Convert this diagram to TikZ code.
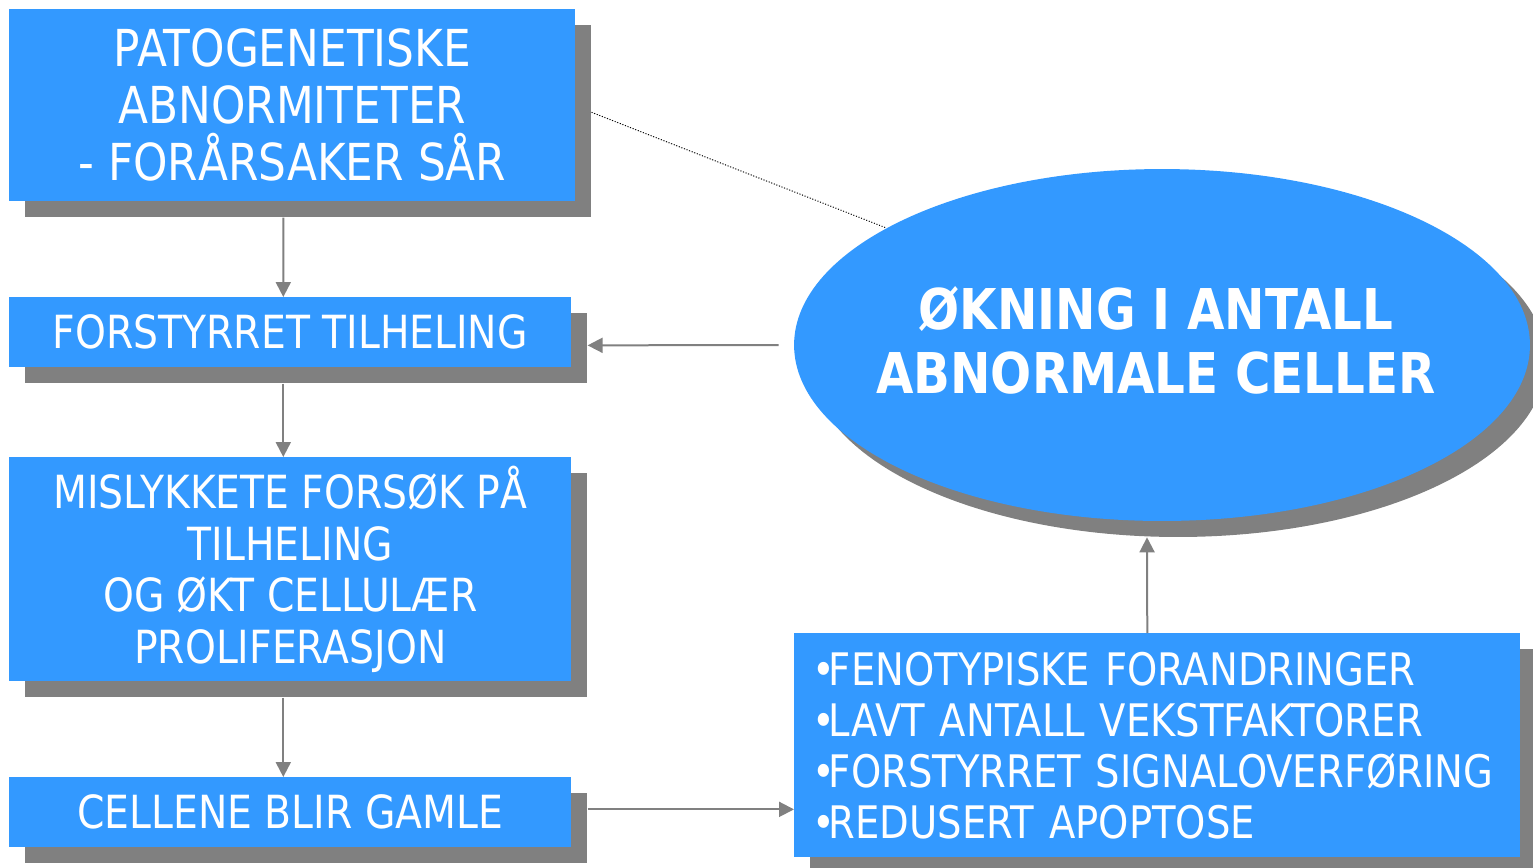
\documentclass[tikz,border=0pt]{standalone}
\usepackage{fontspec}
\setmainfont{DejaVu Sans}[FakeStretch=0.86]
\usetikzlibrary{shapes.geometric,shadows,arrows.meta,calc}
\definecolor{boxblue}{RGB}{51,153,255}
\definecolor{shade}{RGB}{128,128,128}
\newcommand{\bul}{•\kern-0.14em}
\tikzset{
  box/.style={rectangle, fill=boxblue, text=white, inner sep=0pt, anchor=north west, align=center,
    general shadow={fill=shade, shadow xshift=0.32cm, shadow yshift=-0.32cm}},
  arr/.style={-{Triangle[length=0.3cm,width=0.3cm]}, draw=shade, line width=0.04cm},
}
\begin{document}
\begin{tikzpicture}[x=0.02cm,y=-0.02cm]
  \useasboundingbox (0,0) rectangle (1533,867);
  % left column
  \node[box, minimum width=11.32cm, minimum height=3.84cm, font=\fontsize{29}{32.4}\selectfont] (patho) at (9,9)
    {PATOGENETISKE\\ABNORMITETER\\- FORÅRSAKER SÅR};
  \node[box, minimum width=11.24cm, minimum height=1.4cm, font=\fontsize{26}{29.3}\selectfont] (heal) at (9,297)
    {FORSTYRRET TILHELING};
  \node[box, minimum width=11.24cm, minimum height=4.48cm, font=\fontsize{26}{29.3}\selectfont] (fail) at (9,457)
    {MISLYKKETE FORSØK PÅ\\TILHELING\\OG ØKT CELLULÆR\\PROLIFERASJON};
  \node[box, minimum width=11.24cm, minimum height=1.4cm, font=\fontsize{26}{29.3}\selectfont] (old) at (9,777)
    {CELLENE BLIR GAMLE};
  % right column
  \node[box, ellipse, anchor=center, minimum width=14.72cm, minimum height=7.04cm,
    label={[align=center, text=white, font=\fontsize{32}{36.4}\selectfont\bfseries, xshift=-0.12cm, yshift=0.1cm]center:{ØKNING I ANTALL\\ABNORMALE CELLER}}] (ell) at (1162,345) {};
  \node[box, align=left, inner xsep=0.36cm, text width=13.8cm, minimum height=4.48cm,
    font=\fontsize{25.5}{29}\selectfont] (feat) at (794,633)
    {\bul FENOTYPISKE FORANDRINGER\\\bul LAVT ANTALL VEKSTFAKTORER\\\bul FORSTYRRET SIGNALOVERFØRING\\\bul REDUSERT APOPTOSE};
  % connectors
  \draw[arr] ($(patho.south)+(-9,16)$) -- ($(heal.north)+(-7,0)$);
  \draw[arr] ($(heal.south)+(-7,16)$) -- ($(fail.north)+(-7,0)$);
  \draw[arr] ($(fail.south)+(-7,16)$) -- ($(old.north)+(-7,0)$);
  \draw[arr] ($(ell.west)+(-15,0)$) -- ($(heal.east)+(16,13)$);
  \coordinate (oldout) at ($(old.east)+(16,-3)$);
  \draw[arr] (oldout) -- (oldout -| feat.west);
  \draw[arr] ($(feat.north)+(-10,0)$) -- ($(ell.south)+(-15,16)$);
  \draw[shade, densely dotted, line width=0.02cm] ($(patho.east)+(16,7)$) -- (ell.157);
\end{tikzpicture}
\end{document}
